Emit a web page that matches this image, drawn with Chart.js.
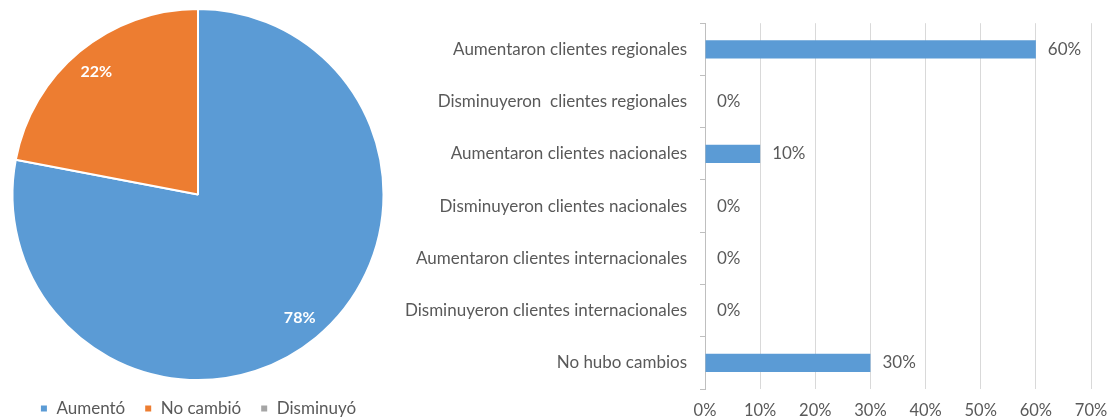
<!DOCTYPE html>
<html>
<head>
<meta charset="utf-8">
<script src="https://cdn.jsdelivr.net/npm/chart.js@4"></script>
<style>
  body { margin: 0; background: #fff; width: 1112px; height: 419px; position: relative; overflow: hidden; }
  #pieWrap { position: absolute; left: 0; top: 0; width: 396px; height: 427px; }
  #barWrap { position: absolute; left: 400px; top: 0; width: 712px; height: 419px; }
</style>
</head>
<body>
<div id="pieWrap"><canvas id="pieChart"></canvas></div>
<div id="barWrap"><canvas id="barChart"></canvas></div>
<script>
// pie data
const pieLabels = ["Aumentó", "No cambió", "Disminuyó"]
const pieValues = [78, 22, 0]
const pieColors = ["#5B9BD5", "#ED7D31", "#A5A5A5"]

// bar data
const barLabels = [
    "Aumentaron clientes regionales",
    "Disminuyeron  clientes regionales",
    "Aumentaron clientes nacionales",
    "Disminuyeron clientes nacionales",
    "Aumentaron clientes internacionales",
    "Disminuyeron clientes internacionales",
    "No hubo cambios"
]
const barValues = [60, 0, 10, 0, 0, 0, 30]
const xTicks = [0, 10, 20, 30, 40, 50, 60, 70]

const FONT = "Lato"
const GREY = "#595959"
Chart.defaults.font.family = FONT
Chart.defaults.color = GREY
Chart.defaults.animation = false

// white bold percentages inside the pie slices
const pieLabelPlugin = {
    id: "pieLabels",
    afterDatasetsDraw(chart) {
        const {ctx} = chart
        const meta = chart.getDatasetMeta(0)
        ctx.save()
        ctx.font = "bold 16px " + FONT
        ctx.fillStyle = "#fff"
        ctx.textAlign = "center"
        ctx.textBaseline = "middle"
        meta.data.forEach((arc, i) => {
            if (!pieValues[i]) return
            const mid = (arc.startAngle + arc.endAngle) / 2
            const r = arc.outerRadius * 0.86
            ctx.fillText(pieValues[i] + "%", arc.x + Math.cos(mid) * r, arc.y + Math.sin(mid) * r)
        })
        ctx.restore()
    }
}

new Chart(document.querySelector("#pieChart"), {
    type: "pie",
    data: {
        labels: pieLabels,
        datasets: [{
            data: pieValues,
            backgroundColor: pieColors,
            borderColor: "#fff",
            borderWidth: 2,
        }]
    },
    options: {
        responsive: true,
        maintainAspectRatio: false,
        layout: {padding: {top: 8, bottom: 0, left: 11, right: 11}},
        events: [],
        plugins: {
            tooltip: {enabled: false},
            legend: {
                position: "bottom",
                labels: {
                    boxWidth: 8,
                    boxHeight: 8,
                    padding: 19,
                    color: GREY,
                    font: {size: 17},
                }
            }
        }
    },
    plugins: [pieLabelPlugin]
})

// value labels to the right of each bar
const barLabelPlugin = {
    id: "barLabels",
    afterDatasetsDraw(chart) {
        const {ctx} = chart
        const meta = chart.getDatasetMeta(0)
        ctx.save()
        ctx.font = "17px " + FONT
        ctx.fillStyle = GREY
        ctx.textAlign = "left"
        ctx.textBaseline = "middle"
        meta.data.forEach((bar, i) => {
            ctx.fillText(barValues[i] + "%", bar.x + 12, bar.y)
        })
        ctx.restore()
    }
}

new Chart(document.querySelector("#barChart"), {
    type: "bar",
    data: {
        labels: barLabels,
        datasets: [{
            data: barValues,
            backgroundColor: "#5B9BD5",
            categoryPercentage: 1,
            barPercentage: 0.35,
        }]
    },
    options: {
        indexAxis: "y",
        responsive: true,
        maintainAspectRatio: false,
        layout: {padding: {top: 22, right: 21, left: 0, bottom: 0}},
        events: [],
        plugins: {
            legend: {display: false},
            tooltip: {enabled: false},
        },
        scales: {
            x: {
                min: 0,
                max: 70,
                afterBuildTicks: (axis) => {
                    axis.ticks = xTicks.map(v => ({value: v}))
                },
                afterFit: (axis) => {
                    axis.height = 30
                    axis.paddingLeft = 0
                    axis.paddingRight = 0
                },
                border: {display: false},
                grid: {color: "#D9D9D9", drawTicks: false, lineWidth: 1},
                ticks: {
                    padding: 12,
                    color: GREY,
                    font: {size: 16.5},
                    callback: (v) => v + "%",
                },
            },
            y: {
                afterFit: (axis) => { axis.width = 305 },
                border: {display: true, color: "#BFBFBF"},
                grid: {offset: true, drawOnChartArea: false, tickLength: 5, color: "#BFBFBF"},
                ticks: {
                    padding: 13,
                    color: GREY,
                    font: {size: 17},
                },
            }
        }
    },
    plugins: [barLabelPlugin]
})
</script>
</body>
</html>
